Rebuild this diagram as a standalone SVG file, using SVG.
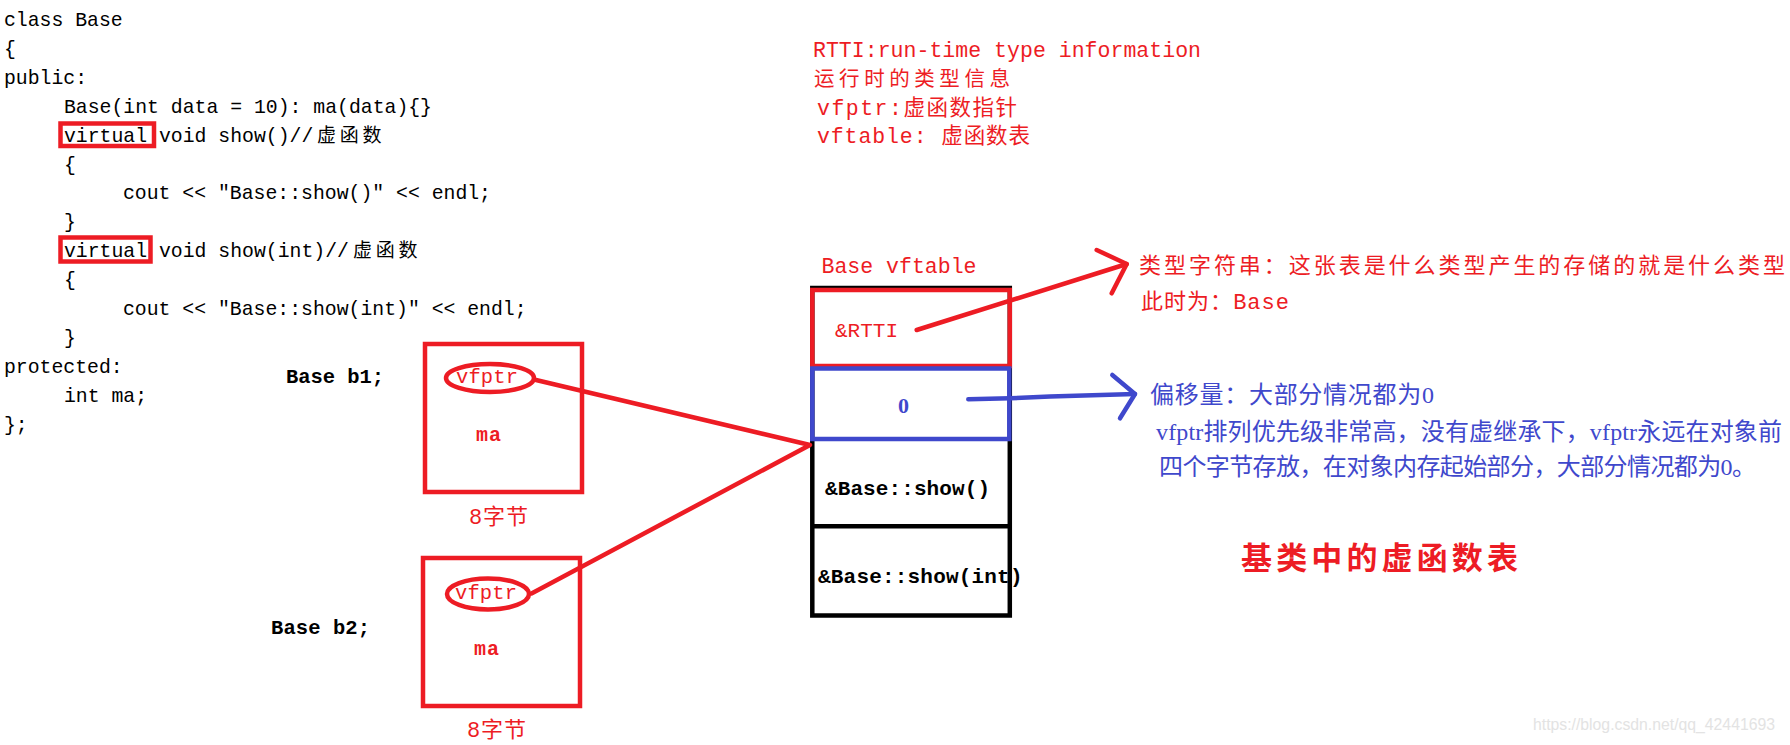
<svg xmlns="http://www.w3.org/2000/svg" width="1790" height="745" viewBox="0 0 1790 745">
<style>
.bg{fill:#ffffff}
.code{font-family:"Liberation Mono","Noto Sans CJK SC",monospace;font-size:19.8px;fill:#000}
.cj{font-family:"Noto Sans CJK SC",sans-serif;font-size:19px;letter-spacing:3.7px}
.mono{font-family:"Liberation Mono","Noto Sans CJK SC",monospace}
.serif{font-family:"Liberation Serif","Noto Sans CJK SC",serif}
.cjk{font-family:"Noto Sans CJK SC",sans-serif}
.red{fill:#ed1c24}
.blue{fill:#3f48cc}
.blk{fill:#000}
.bold{font-weight:bold}
.rbox{fill:none;stroke:#ed1c24;stroke-width:4.5}
.bbox{fill:none;stroke:#3f48cc;stroke-width:4.5}
.kbox{fill:none;stroke:#000;stroke-width:4.5}
.rline{fill:none;stroke:#ed1c24;stroke-width:4.5;stroke-linecap:round;stroke-linejoin:round}
.bline{fill:none;stroke:#3f48cc;stroke-width:4.5;stroke-linecap:round;stroke-linejoin:round}
</style>
<rect class="bg" x="0" y="0" width="1790" height="745"/>

<g id="code">
<text class="code" x="4" y="26">class Base</text>
<text class="code" x="4" y="54.9">{</text>
<text class="code" x="4" y="83.8">public:</text>
<text class="code" x="64" y="112.7">Base(int data = 10): ma(data){}</text>
<text class="code" x="64" y="141.6">virtual void show()//<tspan class="cj" x="317">虚函数</tspan></text>
<text class="code" x="64" y="170.5">{</text>
<text class="code" x="123" y="199.4">cout &lt;&lt; "Base::show()" &lt;&lt; endl;</text>
<text class="code" x="64" y="228.3">}</text>
<text class="code" x="64" y="257.2">virtual void show(int)//<tspan class="cj" x="353">虚函数</tspan></text>
<text class="code" x="64" y="286.1">{</text>
<text class="code" x="123" y="315">cout &lt;&lt; "Base::show(int)" &lt;&lt; endl;</text>
<text class="code" x="64" y="343.9">}</text>
<text class="code" x="4" y="372.8">protected:</text>
<text class="code" x="64" y="401.7">int ma;</text>
<text class="code" x="4" y="430.6">};</text>
<rect class="rbox" x="60.5" y="123.5" width="93.5" height="22.5"/>
<rect class="rbox" x="60.5" y="237.5" width="90" height="24"/>
</g>

<g id="notes">
<text class="mono red" x="813" y="56.7" font-size="21.5" textLength="388" lengthAdjust="spacing">RTTI:run-time type information</text>
<text class="cjk red" x="814" y="85.5" font-size="20.5" textLength="196" lengthAdjust="spacing">运行时的类型信息</text>
<text class="mono red" x="817" y="115" font-size="21.5" textLength="200" lengthAdjust="spacing">vfptr:虚函数指针</text>
<text class="mono red" x="817" y="143" font-size="21.5" textLength="213" lengthAdjust="spacing">vftable: 虚函数表</text>
</g>

<g id="obj-b1">
<text class="mono blk bold" x="286" y="383.3" font-size="20.5" textLength="98" lengthAdjust="spacing">Base b1;</text>
<rect class="rbox" x="425" y="344" width="157" height="148"/>
<ellipse class="rbox" cx="490" cy="378" rx="44" ry="14"/>
<text class="mono red" x="456" y="383.3" font-size="20.5" textLength="62" lengthAdjust="spacing">vfptr</text>
<text class="mono red bold" x="476" y="440.7" font-size="20" textLength="25" lengthAdjust="spacing">ma</text>
<text class="mono red" x="469" y="524.3" font-size="22" textLength="59" lengthAdjust="spacing">8字节</text>
</g>

<g id="obj-b2">
<text class="mono blk bold" x="271" y="634" font-size="20.5" textLength="99" lengthAdjust="spacing">Base b2;</text>
<rect class="rbox" x="423" y="558" width="157" height="148"/>
<ellipse class="rbox" cx="488" cy="594" rx="41" ry="15.5"/>
<text class="mono red" x="455" y="598.5" font-size="20.5" textLength="62" lengthAdjust="spacing">vfptr</text>
<text class="mono red bold" x="474" y="655" font-size="20" textLength="25" lengthAdjust="spacing">ma</text>
<text class="mono red" x="467" y="736.7" font-size="22" textLength="59" lengthAdjust="spacing">8字节</text>
</g>

<g id="vftable">
<text class="mono red" x="821.5" y="273.3" font-size="21.5" textLength="155" lengthAdjust="spacing">Base vftable</text>
<rect class="kbox" x="812.3" y="288" width="197.5" height="327.5"/>
<line x1="812" y1="526.2" x2="1010" y2="526.2" stroke="#000" stroke-width="4.5"/>
<rect class="rbox" x="812.3" y="290" width="197.5" height="76"/>
<rect class="bbox" x="812.3" y="368.5" width="197" height="70.5"/>
<text class="mono red" x="835" y="336.7" font-size="21" textLength="63" lengthAdjust="spacing">&amp;RTTI</text>
<text class="serif blue bold" x="898" y="413.3" font-size="22">0</text>
<text class="mono blk bold" x="825" y="495" font-size="21" textLength="165" lengthAdjust="spacing">&amp;Base::show()</text>
<text class="mono blk bold" x="818" y="582.7" font-size="21" textLength="204.5" lengthAdjust="spacing">&amp;Base::show(int)</text>
</g>

<g id="rtti-note">
<text class="mono red" x="1139" y="272.5" font-size="22" textLength="646" lengthAdjust="spacing">类型字符串：这张表是什么类型产生的存储的就是什么类型</text>
<text class="mono red" x="1141" y="309.3" font-size="22" textLength="148" lengthAdjust="spacing">此时为：Base</text>
</g>

<g id="offset-note">
<text class="serif blue" x="1150" y="403.3" font-size="24" textLength="284" lengthAdjust="spacing">偏移量：大部分情况都为0</text>
<text class="serif blue" x="1156" y="440" font-size="24" textLength="626" lengthAdjust="spacing">vfptr排列优先级非常高，没有虚继承下，vfptr永远在对象前</text>
<text class="serif blue" x="1159" y="475" font-size="24" textLength="597" lengthAdjust="spacing">四个字节存放，在对象内存起始部分，大部分情况都为0。</text>
</g>

<g id="title">
<text class="cjk red" x="1241" y="569" font-size="31" font-weight="700" textLength="277" lengthAdjust="spacing">基类中的虚函数表</text>
</g>

<g id="watermark">
<text x="1533" y="730" font-family="Liberation Sans, sans-serif" font-size="17" fill="#e3e3e3" textLength="242" lengthAdjust="spacingAndGlyphs">https://blog.csdn.net/qq_42441693</text>
</g>

<g id="connectors">
<polyline class="rline" points="536,380 810,445 531.5,593.5"/>
<line class="rline" x1="916.7" y1="330" x2="1126.7" y2="264"/>
<polyline class="rline" points="1096.7,250 1126.7,264 1111.7,293.3"/>
<polyline class="bline" points="968.3,399.3 1010,398.3 1050,396.5 1135,394"/>
<polyline class="bline" points="1112.3,375 1135,394 1120,418.3"/>
</g>
</svg>
